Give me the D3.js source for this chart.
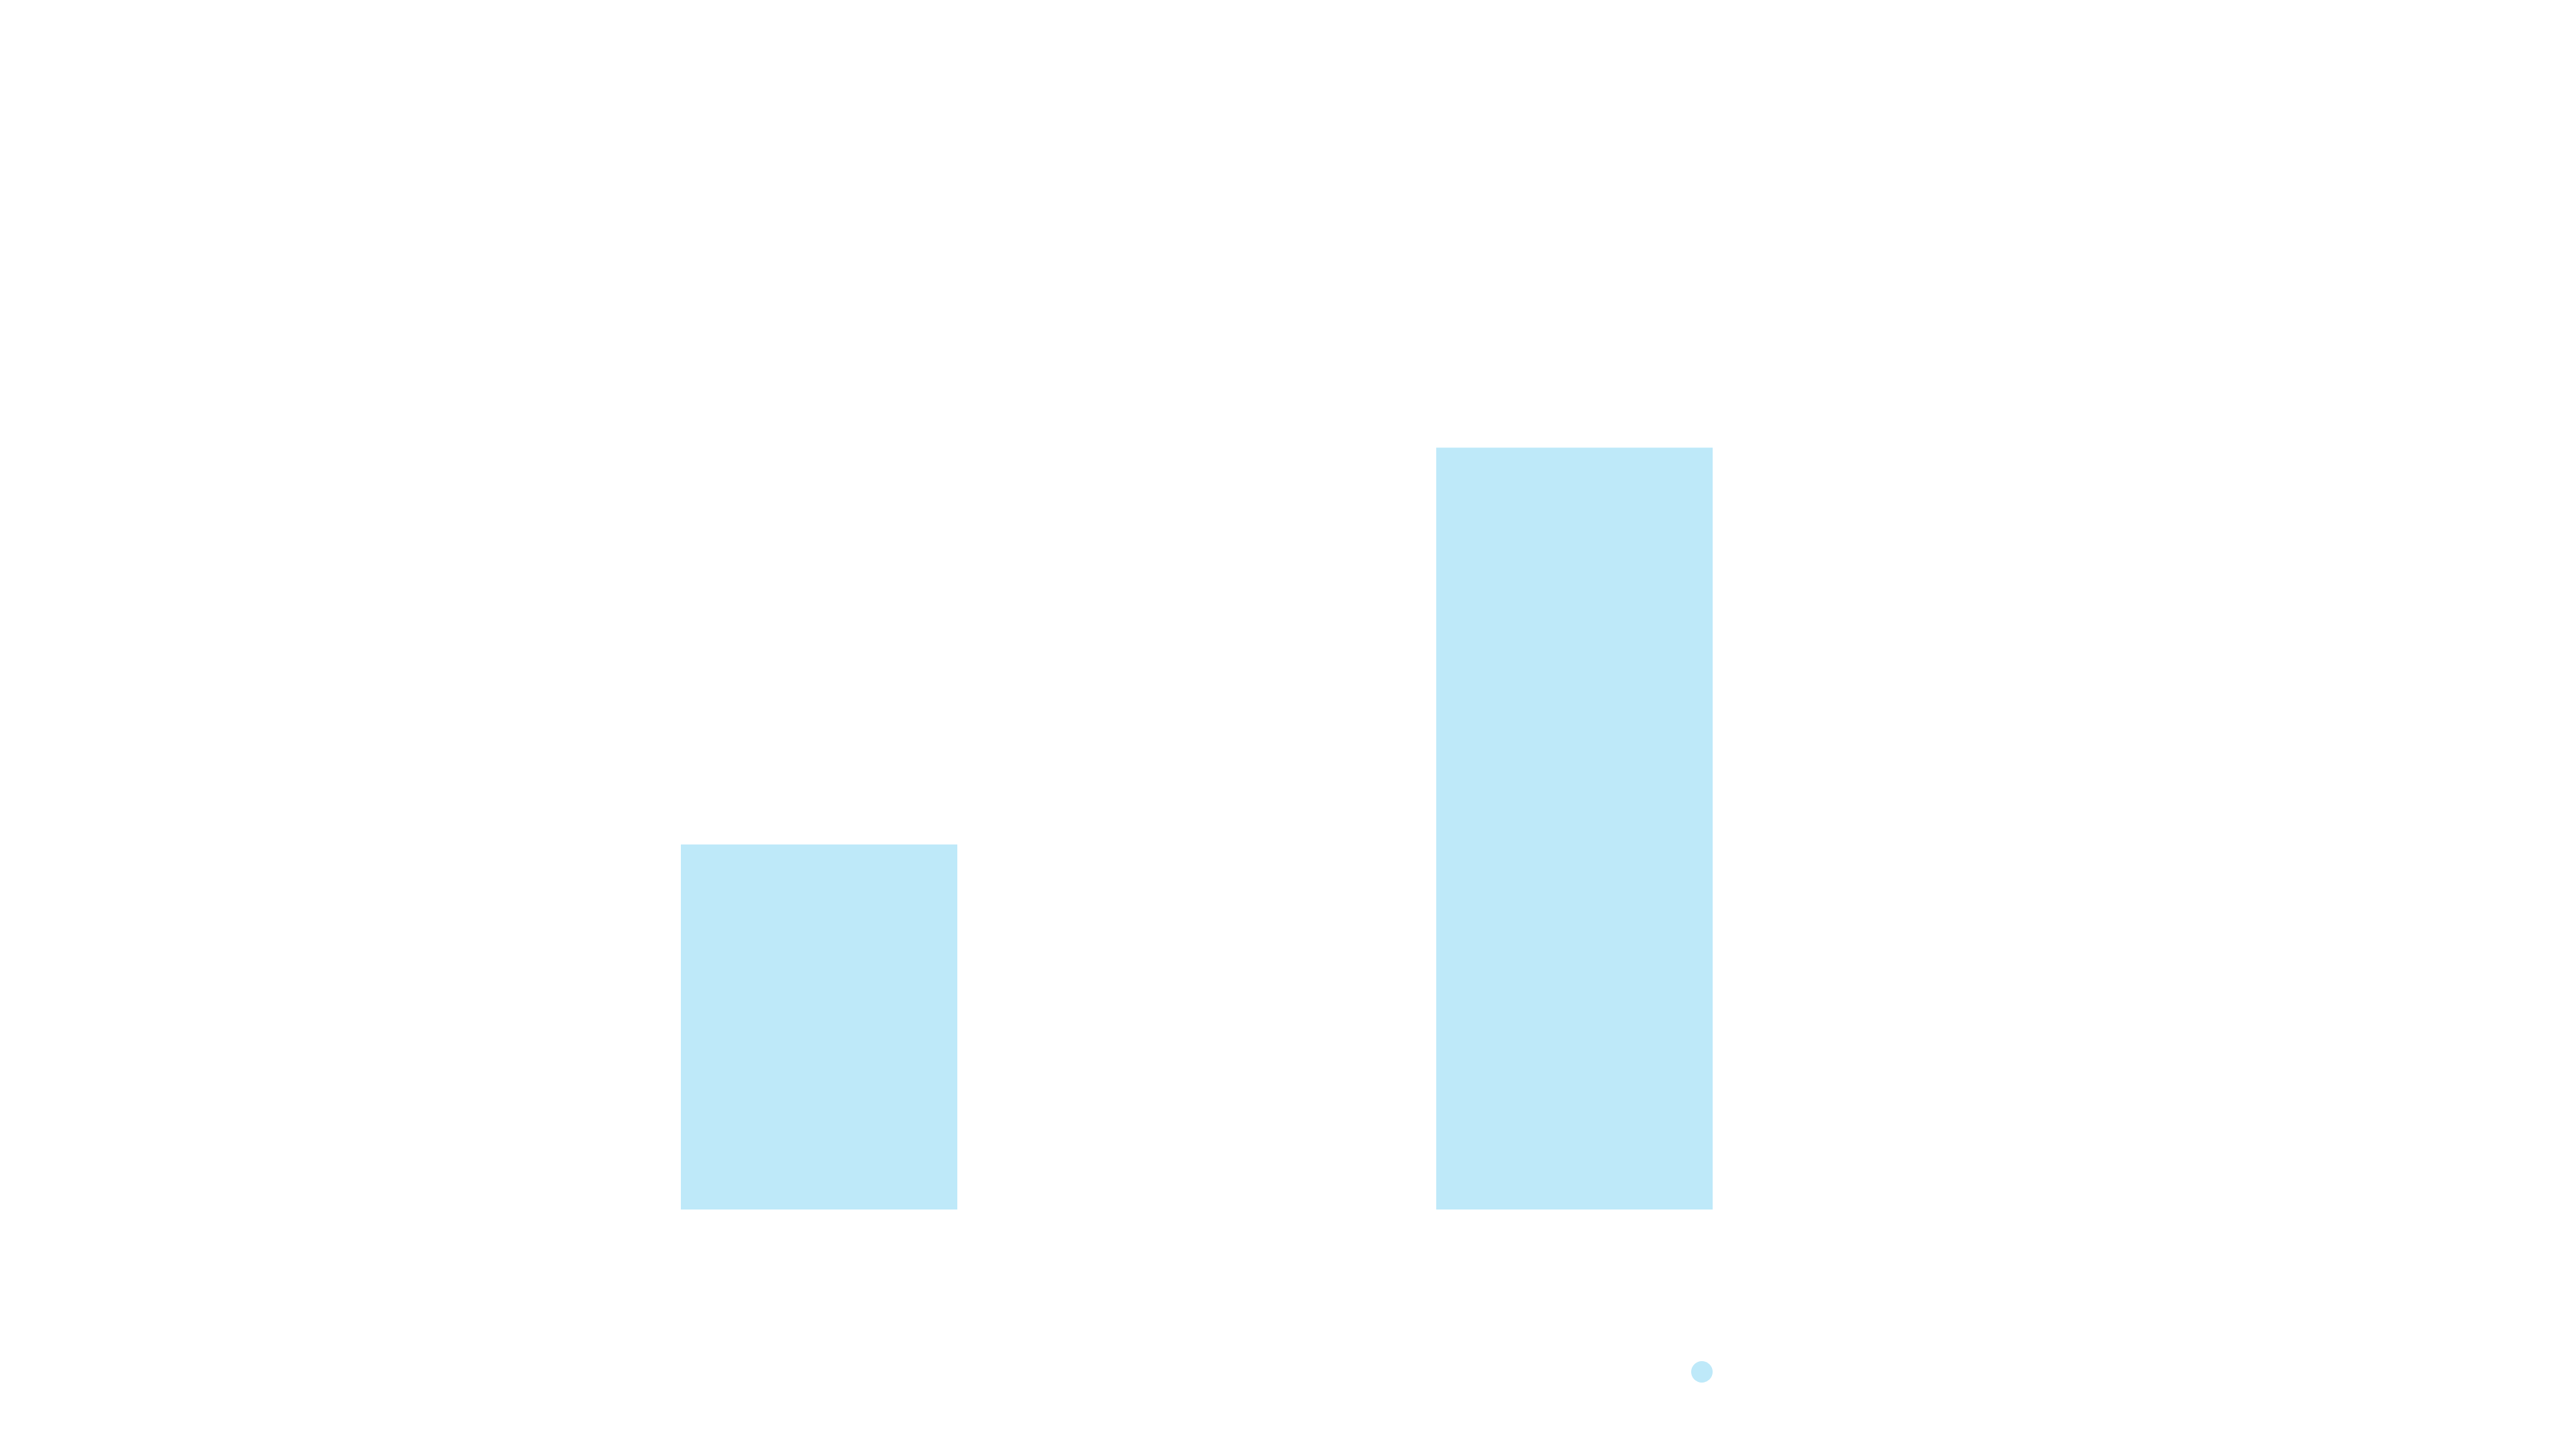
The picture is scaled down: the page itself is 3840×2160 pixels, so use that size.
<!DOCTYPE html>
<html>
<head>
<meta charset="utf-8">
<script src="https://cdn.jsdelivr.net/npm/d3@7"></script>
<style>
  html, body { margin: 0; padding: 0; background: #ffffff; }
  svg { display: block; }
</style>
</head>
<body>
<div id="chart"></div>
<script>
var categories = ['A', 'B'];
var values = [46, 96];
var seriesNames = [''];

var width = 3840, height = 2160;
var margin = {top: 620, right: 930, bottom: 357, left: 658};

var svg = d3.select('#chart')
    .append('svg')
    .attr('width', width)
    .attr('height', height);

var x = d3.scaleBand()
    .domain(categories)
    .range([margin.left, width - margin.right])
    .paddingInner(0.634)
    .paddingOuter(0.317);

var y = d3.scaleLinear()
    .domain([0, 100])
    .range([height - margin.bottom, margin.top]);

svg.append('g')
    .attr('class', 'bars')
    .selectAll('rect')
    .data(values)
    .enter()
    .append('rect')
    .attr('x', function(d, i) { return x(categories[i]); })
    .attr('y', function(d) { return y(d); })
    .attr('width', x.bandwidth())
    .attr('height', function(d) { return y(0) - y(d); })
    .attr('fill', '#bee9f9');

// legend marker
svg.append('g')
    .attr('class', 'legend')
    .attr('transform', 'translate(2537,2045)')
    .selectAll('circle')
    .data(seriesNames)
    .enter()
    .append('circle')
    .attr('r', 16)
    .attr('fill', '#bee9f9');
</script>
</body>
</html>
